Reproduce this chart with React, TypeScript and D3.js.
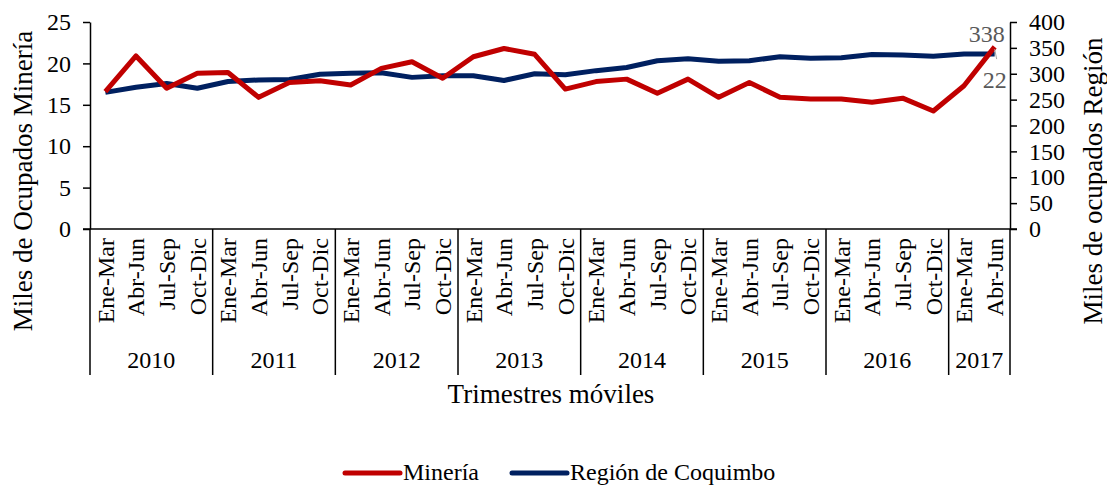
import React, { useEffect, useRef } from 'react';
import * as d3 from 'd3';

// trimestres móviles, 2010 Ene-Mar .. 2017 Abr-Jun
const years = ['2010', '2011', '2012', '2013', '2014', '2015', '2016', '2017'];
const quarters = ['Ene-Mar', 'Abr-Jun', 'Jul-Sep', 'Oct-Dic'];
const periods = years.flatMap(y => quarters.map(q => ({ year: y, q }))).slice(0, 30);

// miles de ocupados, minería (eje izquierdo)
const mineria = [
  16.6, 20.9, 17.0, 18.8, 18.9, 15.9, 17.7, 17.9, 17.4, 19.4,
  20.2, 18.2, 20.8, 21.8, 21.1, 16.9, 17.8, 18.1, 16.4, 18.1,
  15.9, 17.7, 15.9, 15.7, 15.7, 15.3, 15.8, 14.25, 17.3, 22.0,
];
// miles de ocupados, región de Coquimbo (eje derecho)
const region = [
  264, 274, 281, 272, 285, 288, 289, 299, 301, 302,
  293, 296, 296, 287, 300, 298, 306, 312, 325, 329,
  324, 325, 333, 330, 331, 337, 336, 334, 338, 338,
];
const leftTicks = [0, 5, 10, 15, 20, 25];
const rightTicks = [0, 50, 100, 150, 200, 250, 300, 350, 400];

const RED = '#C00000';
const BLUE = '#002060';
const FONT = '"Liberation Serif", "Times New Roman", serif';

function Chart() {
  const ref = useRef(null);

  useEffect(() => {
    const svg = d3.select(ref.current);
    svg.selectAll('*').remove();

    const left = 90, right = 1010, top = 22, bottom = 229;

    const x = d3.scaleBand().domain(periods.map((_, i) => String(i))).range([left, right]).padding(0);
    const cx = (i) => x(String(i)) + x.bandwidth() / 2;
    const yL = d3.scaleLinear().domain([0, 25]).range([bottom, top]);
    const yR = d3.scaleLinear().domain([0, 400]).range([bottom, top]);

    // left axis
    const gl = svg.append('g')
      .attr('transform', `translate(${left},0)`)
      .call(d3.axisLeft(yL).tickValues(leftTicks).tickSize(7).tickPadding(12).tickSizeOuter(0));
    // right axis
    const gr = svg.append('g')
      .attr('transform', `translate(${right},0)`)
      .call(d3.axisRight(yR).tickValues(rightTicks).tickSize(7).tickPadding(12).tickSizeOuter(0));
    [gl, gr].forEach(g => {
      g.attr('font-family', null).attr('font-size', null);
      g.select('.domain').attr('stroke', '#000').attr('stroke-width', 1.5);
      g.selectAll('.tick line').attr('stroke', '#000').attr('stroke-width', 1.5);
      g.selectAll('.tick text')
        .style('font-family', FONT).style('font-size', '24px').attr('fill', '#000');
    });

    // category axis baseline
    svg.append('line')
      .attr('x1', left - 7).attr('x2', right + 7)
      .attr('y1', bottom).attr('y2', bottom)
      .attr('stroke', '#000').attr('stroke-width', 1.5);

    // year separators
    const seps = [];
    periods.forEach((p, i) => { if (p.q === 'Ene-Mar') seps.push(i); });
    seps.push(periods.length);
    svg.selectAll('.sep').data(seps).join('line')
      .attr('class', 'sep')
      .attr('x1', i => (i === periods.length ? right : x(String(i))))
      .attr('x2', i => (i === periods.length ? right : x(String(i))))
      .attr('y1', bottom).attr('y2', 375)
      .attr('stroke', '#000').attr('stroke-width', 1.5);

    // quarter labels
    svg.selectAll('.qlab').data(periods).join('text')
      .attr('class', 'qlab')
      .attr('transform', (_, i) => `translate(${cx(i)},238) rotate(-90)`)
      .attr('dy', '0.35em')
      .attr('text-anchor', 'end')
      .style('font-family', FONT).style('font-size', '24px')
      .text(d => d.q);

    // year labels
    years.forEach((yr) => {
      const idx = periods.map((p, i) => (p.year === yr ? i : -1)).filter(i => i >= 0);
      const x0 = x(String(idx[0]));
      const x1 = x(String(idx[idx.length - 1])) + x.bandwidth();
      svg.append('text')
        .attr('x', (x0 + x1) / 2).attr('y', 368)
        .attr('text-anchor', 'middle')
        .style('font-family', FONT).style('font-size', '24px')
        .text(yr);
    });

    // lines
    const lineL = d3.line().x((_, i) => cx(i)).y(d => yL(d));
    const lineR = d3.line().x((_, i) => cx(i)).y(d => yR(d));
    svg.append('path').attr('d', lineR(region))
      .attr('fill', 'none').attr('stroke', BLUE).attr('stroke-width', 5).attr('stroke-linejoin', 'round');
    svg.append('path').attr('d', lineL(mineria))
      .attr('fill', 'none').attr('stroke', RED).attr('stroke-width', 5).attr('stroke-linejoin', 'round');

    // data labels at the last point
    const last = periods.length - 1;
    svg.append('line')
      .attr('x1', cx(last)).attr('y1', yR(region[last]) - 5)
      .attr('x2', cx(last) + 2).attr('y2', yR(region[last]) + 5)
      .attr('stroke', '#a6a6a6').attr('stroke-width', 1);
    svg.append('text')
      .attr('x', cx(last) - 8).attr('y', 42)
      .attr('text-anchor', 'middle')
      .style('font-family', FONT).style('font-size', '24px').attr('fill', '#595959')
      .text(String(region[last]));
    svg.append('text')
      .attr('x', cx(last)).attr('y', 88)
      .attr('text-anchor', 'middle')
      .style('font-family', FONT).style('font-size', '24px').attr('fill', '#595959')
      .text(String(mineria[last]));

    // axis titles
    svg.append('text')
      .attr('transform', 'translate(23,181) rotate(-90)')
      .attr('dy', '0.35em')
      .attr('text-anchor', 'middle')
      .style('font-family', FONT).style('font-size', '27px')
      .text('Miles de Ocupados Minería');
    svg.append('text')
      .attr('transform', 'translate(1093,181) rotate(-90)')
      .attr('dy', '0.35em')
      .attr('text-anchor', 'middle')
      .style('font-family', FONT).style('font-size', '27px')
      .text('Miles de ocupados Región');
    svg.append('text')
      .attr('x', 551).attr('y', 403)
      .attr('text-anchor', 'middle')
      .style('font-family', FONT).style('font-size', '27px')
      .text('Trimestres móviles');

    // legend
    const legend = [
      { name: 'Minería', color: RED, x: 345 },
      { name: 'Región de Coquimbo', color: BLUE, x: 512 },
    ];
    const lg = svg.selectAll('.lg').data(legend).join('g')
      .attr('class', 'lg')
      .attr('transform', d => `translate(${d.x},473)`);
    lg.append('line')
      .attr('x1', 0).attr('x2', 55).attr('y1', 0).attr('y2', 0)
      .attr('stroke', d => d.color).attr('stroke-width', 5).attr('stroke-linecap', 'round');
    lg.append('text')
      .attr('x', 58).attr('y', 7)
      .style('font-family', FONT).style('font-size', '24px')
      .text(d => d.name);
  }, []);

  return <svg ref={ref} width={1107} height={485} style={{ display: 'block' }} />;
}

export default function App() {
  return (
    <div style={{ position: 'absolute', left: 0, top: 0, background: '#fff' }}>
      <Chart />
    </div>
  );
}
